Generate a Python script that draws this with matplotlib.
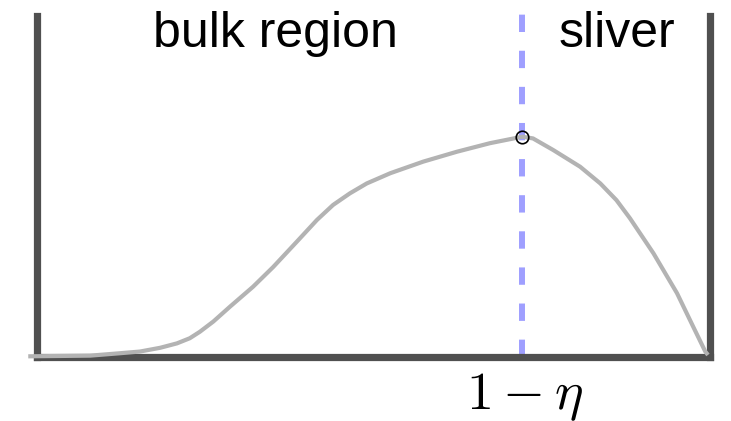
import matplotlib
matplotlib.use("Agg")
import matplotlib.pyplot as plt
import matplotlib.transforms as mtransforms

plt.rcParams["font.family"] = ["Liberation Sans", "DejaVu Sans"]
plt.rcParams["mathtext.fontset"] = "cm"
plt.rcParams["lines.scale_dashes"] = False

# Density profile over the unit interval
curve_x = [-0.013, 0.034, 0.079, 0.123, 0.153, 0.183, 0.208, 0.227, 0.242,
           0.262, 0.287, 0.321, 0.351, 0.386, 0.416, 0.440, 0.465, 0.490,
           0.525, 0.574, 0.624, 0.673, 0.721, 0.737, 0.767, 0.807, 0.837,
           0.861, 0.881, 0.916, 0.951, 0.975, 0.993, 0.997]
curve_y = [0.002, 0.003, 0.004, 0.011, 0.016, 0.027, 0.040, 0.055, 0.074,
           0.104, 0.148, 0.206, 0.264, 0.338, 0.402, 0.446, 0.480, 0.509,
           0.539, 0.573, 0.602, 0.627, 0.646, 0.641, 0.607, 0.558, 0.509,
           0.460, 0.407, 0.304, 0.187, 0.089, 0.016, 0.006]

# Boundary between the bulk region and the sliver
split_x = 0.721
split_y = 0.646
split_label = r"$1-\eta$"
region_labels = ["bulk region", "sliver"]
region_label_x = [0.354, 0.861]

fig = plt.figure(figsize=(7.31, 4.21), dpi=100)
ax = fig.add_axes([37 / 731, 64 / 421, 673 / 731, 341 / 421])
ax.set_xlim(0, 1)
ax.set_ylim(0, 1)

spine_color = "#505050"
for side in ("left", "right", "bottom"):
    ax.spines[side].set_linewidth(5.2)
    ax.spines[side].set_color(spine_color)
    ax.spines[side].set_capstyle("projecting")
ax.spines["top"].set_visible(False)
ax.set_xticks([])
ax.set_yticks([])

ax.plot(curve_x, curve_y, color="#b3b3b3", lw=3.0, clip_on=False,
        solid_capstyle="butt", solid_joinstyle="round", zorder=3)

ax.plot([split_x, split_x], [0, 1.02], color="#9f9fff", lw=4.3,
        dashes=(12.5, 13.5), clip_on=False, zorder=2)

ax.plot([split_x], [split_y], marker="o", ms=9, mfc="none", mec="black",
        mew=1.2, clip_on=False, zorder=4)

for lbl, x in zip(region_labels, region_label_x):
    ax.text(x, 0.909, lbl, fontsize=36, ha="center", va="baseline",
            color="black")

trans = mtransforms.blended_transform_factory(ax.transData, fig.transFigure)
ax.text(split_x + 0.004, 12 / 421, split_label, fontsize=39, ha="center",
        va="baseline", transform=trans)

fig.savefig("out.png", dpi=100)
